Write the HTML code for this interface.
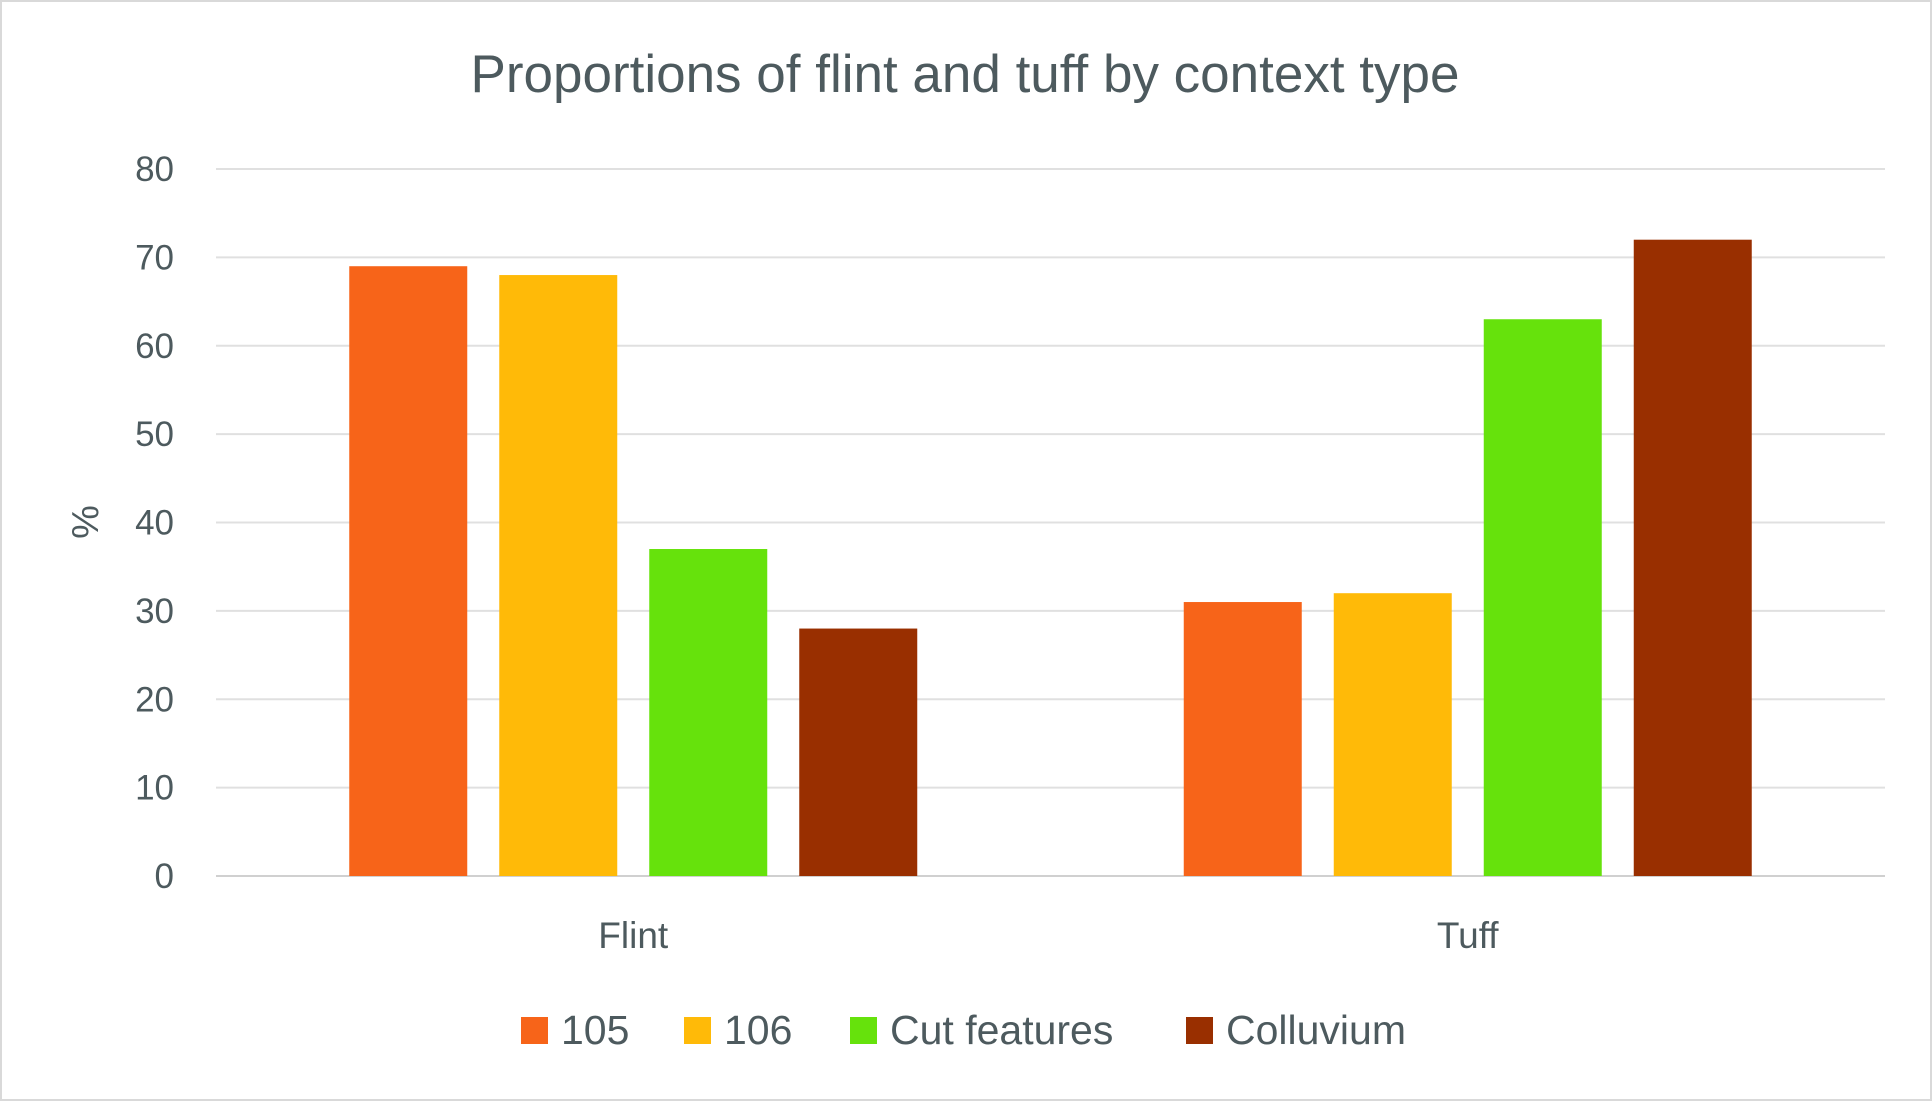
<!DOCTYPE html>
<html><head><meta charset="utf-8"><style>
body{margin:0;background:#fff;}
svg{display:block;font-family:"Liberation Sans",sans-serif;}
</style></head><body>
<svg width="1932" height="1101" viewBox="0 0 1932 1101">
<rect x="1" y="1" width="1930" height="1099" fill="#fff" stroke="#d9d9d9" stroke-width="2"/>
<text x="965" y="92" text-anchor="middle" font-size="53" fill="#4d5a5e">Proportions of flint and tuff by context type</text>
<text transform="translate(98,522) rotate(-90)" text-anchor="middle" font-size="38" fill="#4d5a5e">%</text>
<g id="grid"></g><g id="bars"></g><g id="legend"></g>
</svg>
<script>
const categories=["Flint","Tuff"];
const seriesNames=["105","106","Cut features","Colluvium"];
const s105=[69,31];
const s106=[68,32];
const sCut=[37,63];
const sColl=[28,72];
const yTicks=[0,10,20,30,40,50,60,70,80];
const colors=["#f76419","#ffba08","#66e20c","#992f00"];
const series=[s105,s106,sCut,sColl];
const NS="http://www.w3.org/2000/svg";
const L=216,R=1885,T=169,B=876,yMax=80;
const y=v=>B-(v/yMax)*(B-T);
const bw=(R-L)/categories.length;
const barW=118,gap=32;
function mk(t,a,p){const e=document.createElementNS(NS,t);for(const k in a)e.setAttribute(k,a[k]);p.appendChild(e);return e;}
const grid=document.getElementById('grid');
yTicks.forEach(t=>{
 const ln=mk('line',{x1:L,x2:R,y1:y(t),y2:y(t),stroke:t===0?'#d0d0d0':'#e0e0e0','stroke-width':2},grid);
 
 
 const tx=mk('text',{x:174,y:y(t)+12,'text-anchor':'end','font-size':35,fill:'#4d5a5e'},grid);
 tx.textContent=t;
 
 
});
const bars=document.getElementById('bars');
const groupW=series.length*barW+(series.length-1)*gap;
categories.forEach((c,i)=>{
 const cx=L+bw*(i+0.5);
 series.forEach((s,j)=>{
  const x0=cx-groupW/2+j*(barW+gap);
  const r=mk('rect',{x:x0,y:y(s[i]),width:barW,height:B-y(s[i]),fill:colors[j]},bars);
  
  
 });
 const t=mk('text',{x:cx,y:948,'text-anchor':'middle','font-size':37,fill:'#4d5a5e'},bars);
 t.textContent=c;
 
 
});
const lg=document.getElementById('legend');
const lx=[521,684,850,1186];
seriesNames.forEach((n,j)=>{
 const g=mk('g',{},lg);
 
 
 mk('rect',{x:lx[j],y:1017,width:27,height:27,fill:colors[j]},g);
 const t=mk('text',{x:lx[j]+40,y:1044,'font-size':41,fill:'#4d5a5e'},g);
 t.textContent=n;
});
</script>
</body></html>
